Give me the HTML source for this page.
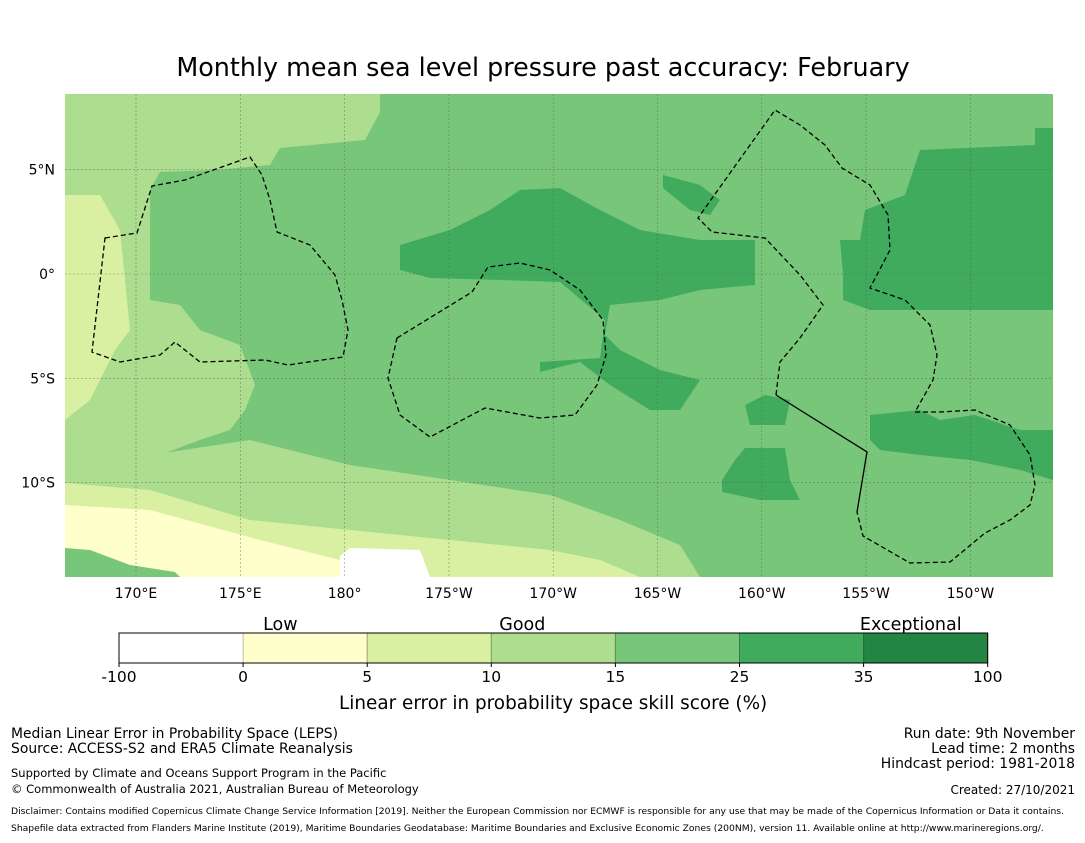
<!DOCTYPE html>
<html><head><meta charset="utf-8"><style>
body{margin:0;background:#fff;font-family:"DejaVu Sans","Liberation Sans",sans-serif;}
svg text{font-family:"DejaVu Sans","Liberation Sans",sans-serif;}
</style></head><body>
<svg id="s" width="1085" height="839" viewBox="0 0 1085 839" xmlns="http://www.w3.org/2000/svg">
<text x="543" y="76" font-size="25.4" text-anchor="middle">Monthly mean sea level pressure past accuracy: February</text>
<defs><clipPath id="mc"><rect x="65" y="94" width="988" height="483"/></clipPath></defs>
<g clip-path="url(#mc)">
<rect x="65" y="94" width="988" height="483" fill="#78c679"/>
<polygon fill="#addd8e" points="65,94 380,94 380,112 365,140 280,148 270,165 215,170 160,172 150,190 150,300 180,305 200,330 240,345 255,385 245,410 230,430 200,440 160,455 120,470 65,475"/>
<polygon fill="#d9f0a3" points="65,195 100,195 120,230 130,330 115,350 90,400 65,420"/>
<polygon fill="#addd8e" points="65,470 150,455 250,440 350,465 450,480 550,495 620,520 680,545 700,577 65,577"/>
<polygon fill="#d9f0a3" points="65,483 150,490 250,520 350,530 450,540 550,550 600,560 640,577 65,577"/>
<polygon fill="#ffffcc" points="65,505 150,510 260,540 340,560 345,577 65,577"/>
<polygon fill="#78c679" points="65,548 90,550 130,565 175,572 180,577 65,577"/>
<polygon fill="#ffffff" points="340,556 350,548 420,550 430,577 340,577"/>
<polygon fill="#41ab5d" points="400,245 450,230 490,210 520,190 560,188 600,210 640,230 700,240 755,240 755,285 700,290 660,300 610,305 605,335 620,350 660,370 700,380 680,410 650,410 610,385 580,362 540,372 540,362 600,358 605,320 560,282 500,280 430,278 400,270"/>
<polygon fill="#41ab5d" points="663,175 700,185 720,200 710,215 690,210 663,188"/>
<polygon fill="#41ab5d" points="840,240 860,240 865,210 905,195 920,150 1035,145 1035,128 1053,128 1053,310 870,310 843,300 843,275"/>
<polygon fill="#41ab5d" points="870,415 920,410 940,420 975,415 1020,430 1053,430 1053,480 1020,470 970,460 920,455 880,450 870,440"/>
<polygon fill="#41ab5d" points="735,460 745,448 785,448 790,480 800,500 760,500 722,492 722,480"/>
<polygon fill="#41ab5d" points="745,405 765,395 790,400 785,425 750,425"/>
<g id="grid" stroke="#555" stroke-width="0.6" stroke-dasharray="2,2" opacity="0.6"></g>
<g fill="none" stroke="#000" stroke-width="1.3" stroke-dasharray="5,3">
<polygon points="105,238 137,233 152,186 185,180 250,157 262,175 270,200 277,232 310,245 335,275 342,300 348,330 343,357 288,365 265,360 200,362 175,342 160,355 120,362 92,352"/>
<polygon points="397,338 472,292 488,267 520,263 550,270 580,290 603,320 606,355 597,385 575,415 540,418 485,408 430,437 400,415 388,378"/>
<polyline points="776,395 780,362 800,338 823,305 800,275 765,238 712,232 698,218 775,110 800,125 825,145 842,168 870,185 888,215 890,250 870,288 905,300 930,325 937,355 933,380 915,412 940,412 975,410 1010,425 1030,455 1035,485 1030,505 1010,520 985,533 950,562 910,563 863,536 857,512"/>
</g>
<polyline fill="none" stroke="#000" stroke-width="1.3" points="776,395 867,452 857,512"/>
</g>
<g id="axes" font-size="14"></g>
<g id="cbar"></g>
<text x="339" y="709" font-size="18.4">Linear error in probability space skill score (%)</text>
<g font-size="13.9">
<text x="11" y="738">Median Linear Error in Probability Space (LEPS)</text>
<text x="11" y="753">Source: ACCESS-S2 and ERA5 Climate Reanalysis</text>
</g>
<g font-size="11.5">
<text x="11" y="777">Supported by Climate and Oceans Support Program in the Pacific</text>
<text x="11" y="793">© Commonwealth of Australia 2021, Australian Bureau of Meteorology</text>
</g>
<g font-size="13.9" text-anchor="end">
<text x="1075" y="738">Run date: 9th November</text>
<text x="1075" y="753">Lead time: 2 months</text>
<text x="1075" y="768">Hindcast period: 1981-2018</text>
<text x="1075" y="794" font-size="12">Created: 27/10/2021</text>
</g>
<g font-size="9.2">
<text x="11" y="814">Disclaimer: Contains modified Copernicus Climate Change Service Information [2019]. Neither the European Commission nor ECMWF is responsible for any use that may be made of the Copernicus Information or Data it contains.</text>
<text x="11" y="831">Shapefile data extracted from Flanders Marine Institute (2019), Maritime Boundaries Geodatabase: Maritime Boundaries and Exclusive Economic Zones (200NM), version 11. Available online at http://www.marineregions.org/.</text>
</g>
</svg>
<script>
const lonLabels=["170°E","175°E","180°","175°W","170°W","165°W","160°W","155°W","150°W"];
const lonValues=[170,175,180,185,190,195,200,205,210];
const latLabels=["5°N","0°","5°S","10°S"];
const latValues=[5,0,-5,-10];
const cbBounds=["-100","0","5","10","15","25","35","100"];
const cbColors=["#ffffff","#ffffcc","#d9f0a3","#addd8e","#78c679","#41ab5d","#238443"];
const cbCategories=["Low","Good","Exceptional"];
const cbCatPos=[1.3,3.25,6.38];
const NS="http://www.w3.org/2000/svg";
const xLon=v=>136+(v-170)*20.86;
const yLat=v=>274-v*20.86;
function mk(t,a,p){const e=document.createElementNS(NS,t);for(const k in a)e.setAttribute(k,a[k]);p.appendChild(e);return e;}
const grid=document.getElementById('grid'),axes=document.getElementById('axes'),cb=document.getElementById('cbar');
lonValues.forEach((v,i)=>{const x=xLon(v);
 const l=mk('line',{x1:x,x2:x,y1:94,y2:577},grid);
 
 
 const t=mk('text',{x:x,y:598,'text-anchor':'middle'},axes);t.textContent=lonLabels[i];
 
 });
latValues.forEach((v,i)=>{const y=yLat(v);
 const l=mk('line',{x1:65,x2:1053,y1:y,y2:y},grid);
 
 
 const t=mk('text',{x:55,y:y+5,'text-anchor':'end'},axes);t.textContent=latLabels[i];
 
 });
const cx0=119,cw=124.1,cy=633,ch=30;
cbColors.forEach((c,i)=>{const r=mk('rect',{x:cx0+i*cw,y:cy,width:cw,height:ch,fill:c,stroke:i?'rgba(0,0,0,0.25)':'none'},cb);
 
 });
const fr=mk('rect',{x:cx0,y:cy,width:cw*7,height:ch,fill:'none',stroke:'#000','stroke-width':1},cb);


cbBounds.forEach((b,i)=>{const x=cx0+i*cw;
 mk('line',{x1:x,x2:x,y1:cy+ch,y2:cy+ch+4,stroke:'#000'},cb);
 const t=mk('text',{x:x,y:682,'text-anchor':'middle','font-size':15.5},cb);t.textContent=b;
 
 });
cbCategories.forEach((c,i)=>{const t=mk('text',{x:cx0+cbCatPos[i]*cw,y:630,'text-anchor':'middle','font-size':17.5},cb);t.textContent=c;
 
 });
</script>
</body></html>
